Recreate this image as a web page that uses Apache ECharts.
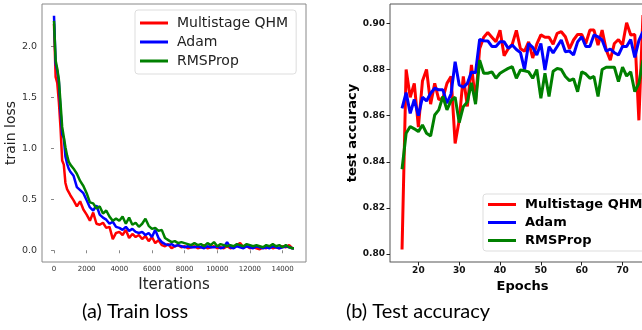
<!DOCTYPE html>
<html>
<head>
<meta charset="utf-8">
<style>
  html, body { margin: 0; padding: 0; background: #fff; overflow: hidden; }
  #chart { width: 670px; height: 330px; }
</style>
<script src="https://cdn.jsdelivr.net/npm/echarts@6/dist/echarts.min.js"></script>
</head>
<body>
<div id="chart"></div>
<script>
// legend names
const seriesNames = ['Multistage QHM', 'Adam', 'RMSProp']
const seriesColors = ['#ff0000', '#0000ff', '#008000']

// (a) train loss, sampled iterations
const iterations = [
  0, 100, 200, 300, 400, 500, 600, 700, 800, 900, 1000,
  1200, 1400, 1600, 1800, 2000, 2200, 2400, 2600, 2800, 3000,
  3200, 3400, 3600, 3800, 4000, 4200, 4400, 4600, 4800, 5000,
  5200, 5400, 5600, 5800, 6000, 6200, 6400, 6600, 6800, 7000,
  7200, 7400, 7600, 7800, 8000, 8200, 8400, 8600, 8800, 9000,
  9200, 9400, 9600, 9800, 10000, 10200, 10400, 10600, 10800, 11000,
  11200, 11400, 11600, 11800, 12000, 12200, 12400, 12600, 12800, 13000,
  13200, 13400, 13600, 13800, 14000, 14200, 14400, 14600, 14700
]
const lossQHM = [
  2.22, 1.70, 1.64, 1.45, 1.20, 0.88, 0.84, 0.66, 0.60, 0.57, 0.54,
  0.49, 0.43, 0.48, 0.40, 0.35, 0.29, 0.37, 0.26, 0.25, 0.27,
  0.22, 0.23, 0.11, 0.17, 0.18, 0.15, 0.20, 0.12, 0.16, 0.13,
  0.15, 0.11, 0.14, 0.09, 0.13, 0.07, 0.10, 0.05, 0.04, 0.06,
  0.02, 0.04, 0.05, 0.03, 0.04, 0.02, 0.03, 0.04, 0.02, 0.03,
  0.05, 0.02, 0.03, 0.04, 0.02, 0.03, 0.02, 0.04, 0.02, 0.03,
  0.05, 0.07, 0.03, 0.04, 0.02, 0.03, 0.02, 0.01, 0.03, 0.02,
  0.04, 0.02, 0.03, 0.02, 0.04, 0.03, 0.05, 0.02, 0.02
]
const lossAdam = [
  2.30, 1.83, 1.76, 1.65, 1.37, 1.14, 1.10, 0.92, 0.85, 0.80, 0.77,
  0.73, 0.62, 0.59, 0.56, 0.49, 0.42, 0.39, 0.44, 0.35, 0.32,
  0.30, 0.26, 0.28, 0.23, 0.22, 0.20, 0.23, 0.19, 0.21, 0.18,
  0.17, 0.18, 0.15, 0.17, 0.13, 0.20, 0.12, 0.08, 0.06, 0.05,
  0.06, 0.04, 0.05, 0.04, 0.03, 0.04, 0.03, 0.03, 0.04, 0.03,
  0.02, 0.04, 0.03, 0.03, 0.04, 0.02, 0.03, 0.08, 0.03, 0.02,
  0.04, 0.03, 0.02, 0.04, 0.03, 0.02, 0.04, 0.03, 0.02, 0.03,
  0.02, 0.04, 0.03, 0.02, 0.03, 0.04, 0.03, 0.02, 0.02
]
const lossRMS = [
  2.25, 1.86, 1.78, 1.67, 1.44, 1.21, 1.20, 1.01, 0.93, 0.87, 0.84,
  0.80, 0.75, 0.68, 0.63, 0.56, 0.47, 0.46, 0.41, 0.43, 0.36,
  0.39, 0.33, 0.29, 0.31, 0.29, 0.33, 0.26, 0.32, 0.25, 0.27,
  0.23, 0.26, 0.31, 0.24, 0.21, 0.22, 0.19, 0.20, 0.12, 0.10,
  0.08, 0.09, 0.07, 0.08, 0.07, 0.06, 0.05, 0.07, 0.05, 0.06,
  0.04, 0.07, 0.05, 0.08, 0.04, 0.06, 0.05, 0.04, 0.05, 0.04,
  0.06, 0.05, 0.04, 0.06, 0.05, 0.04, 0.05, 0.04, 0.03, 0.05,
  0.04, 0.06, 0.04, 0.05, 0.03, 0.05, 0.03, 0.02, 0.02
]

// (b) test accuracy per epoch
const epochs = [
  16, 17, 18, 19, 20, 21, 22, 23, 24, 25, 26, 27, 28, 29, 30,
  31, 32, 33, 34, 35, 36, 37, 38, 39, 40, 41, 42, 43, 44, 45,
  46, 47, 48, 49, 50, 51, 52, 53, 54, 55, 56, 57, 58, 59, 60,
  61, 62, 63, 64, 65, 66, 67, 68, 69, 70, 71, 72, 73, 74, 75
]
const accQHM = [
  0.802, 0.880, 0.868, 0.874, 0.855, 0.875, 0.880, 0.865, 0.874, 0.867, 0.8675, 0.874, 0.877, 0.848, 0.858,
  0.877, 0.864, 0.882, 0.866, 0.889, 0.894, 0.896, 0.894, 0.892, 0.897, 0.886, 0.889, 0.891, 0.897, 0.889,
  0.888, 0.892, 0.885, 0.891, 0.895, 0.894, 0.894, 0.891, 0.8957, 0.8964, 0.8942, 0.889, 0.8928, 0.8952, 0.8952,
  0.8913, 0.8971, 0.8971, 0.8906, 0.8971, 0.8885, 0.8841, 0.8913, 0.893, 0.8906, 0.9003, 0.895, 0.8952, 0.858, 0.9036
]
const accAdam = [
  0.8632, 0.870, 0.861, 0.867, 0.860, 0.868, 0.8664, 0.8697, 0.8719, 0.8712, 0.8712, 0.8654, 0.8694, 0.8834, 0.8733,
  0.8723, 0.8740, 0.879, 0.8786, 0.893, 0.8925, 0.8924, 0.890, 0.890, 0.892, 0.892, 0.8892, 0.8906, 0.8887, 0.8873,
  0.880, 0.8913, 0.8896, 0.8863, 0.8913, 0.8798, 0.8899, 0.8872, 0.890, 0.8928, 0.8877, 0.888, 0.8863, 0.892, 0.8942,
  0.890, 0.890, 0.895, 0.8942, 0.8928, 0.888, 0.8889, 0.8873, 0.8863, 0.890, 0.890, 0.893, 0.8853, 0.8925, 0.8964
]
const accRMS = [
  0.8368, 0.8524, 0.8553, 0.8543, 0.8531, 0.856, 0.8524, 0.8512, 0.8603, 0.8625, 0.8683, 0.8625, 0.8665, 0.868, 0.857,
  0.8639, 0.866, 0.8743, 0.865, 0.8841, 0.8784, 0.8784, 0.879, 0.8762, 0.8784, 0.8795, 0.8805, 0.8812, 0.8762, 0.8798,
  0.8795, 0.879, 0.8762, 0.880, 0.8675, 0.8784, 0.8683, 0.8793, 0.8805, 0.880, 0.877, 0.8752, 0.876, 0.8704, 0.879,
  0.8781, 0.8762, 0.877, 0.8683, 0.880, 0.881, 0.881, 0.881, 0.8748, 0.881, 0.8772, 0.879, 0.8704, 0.874, 0.8841
]

// tick labels
const lossXTicks = [0, 2000, 4000, 6000, 8000, 10000, 12000, 14000]
const lossYTicks = [0, 0.5, 1.0, 1.5, 2.0]
const accXTicks = [20, 30, 40, 50, 60, 70]
const accYTicks = [0.80, 0.82, 0.84, 0.86, 0.88, 0.90]

const zip = (xs, ys) => xs.map((x, i) => [x, ys[i]])

const chart = echarts.init(document.getElementById('chart'))

const leftFont = 'DejaVu Sans'
const rightFont = 'DejaVu Sans'

const lossSets = [lossQHM, lossAdam, lossRMS]
const accSets = [accQHM, accAdam, accRMS]

const series = []
lossSets.forEach((d, i) => {
  series.push({
    name: seriesNames[i],
    type: 'line',
    xAxisIndex: 0,
    yAxisIndex: 0,
    data: zip(iterations, d),
    showSymbol: false,
    lineStyle: { color: seriesColors[i], width: 2.5 },
    itemStyle: { color: seriesColors[i] }
  })
})
accSets.forEach((d, i) => {
  series.push({
    name: seriesNames[i],
    type: 'line',
    xAxisIndex: 1,
    yAxisIndex: 1,
    data: zip(epochs, d),
    showSymbol: false,
    lineStyle: { color: seriesColors[i], width: 3 },
    itemStyle: { color: seriesColors[i] }
  })
})

chart.setOption({
  animation: false,
  grid: [
    { left: 42, top: 4, width: 264, height: 258, show: true, borderColor: '#888', borderWidth: 1 },
    { left: 390, top: 4, width: 265, height: 258, show: true, borderColor: '#555', borderWidth: 1 }
  ],
  legend: [
    {
      data: seriesNames,
      orient: 'vertical',
      left: 135,
      top: 10,
      padding: [6, 8, 6, 5],
      itemGap: 5,
      itemWidth: 28,
      itemHeight: 3,
      icon: 'rect',
      backgroundColor: '#fff',
      borderColor: '#ddd',
      borderWidth: 1,
      borderRadius: 3,
      textStyle: { fontFamily: leftFont, fontSize: 14, color: '#222', padding: [0, 0, 0, 4] }
    },
    {
      data: seriesNames,
      orient: 'vertical',
      left: 483,
      top: 194,
      padding: [4, 8, 4, 5],
      itemGap: 5,
      itemWidth: 28,
      itemHeight: 3,
      icon: 'rect',
      backgroundColor: '#fff',
      borderColor: '#ddd',
      borderWidth: 1,
      borderRadius: 3,
      textStyle: { fontFamily: rightFont, fontSize: 13, fontWeight: 'bold', color: '#000', padding: [0, 0, 0, 4] }
    }
  ],
  xAxis: [
    {
      type: 'value',
      gridIndex: 0,
      min: -735,
      max: 15435,
      name: 'Iterations',
      nameLocation: 'middle',
      nameGap: 6,
      nameTextStyle: { fontFamily: leftFont, fontSize: 15, color: '#222', verticalAlign: 'top' },
      axisLine: { show: false },
      axisTick: { show: true, length: 3, lineStyle: { color: '#888' }, customValues: lossXTicks },
      axisLabel: {
        fontFamily: leftFont, fontSize: 7, color: '#333', margin: 4,
        customValues: lossXTicks,
        formatter: v => String(v)
      },
      splitLine: { show: false }
    },
    {
      type: 'value',
      gridIndex: 1,
      min: 13.05,
      max: 77.95,
      name: 'Epochs',
      nameLocation: 'middle',
      nameGap: 13,
      nameTextStyle: { fontFamily: rightFont, fontSize: 13, fontWeight: 'bold', color: '#000', verticalAlign: 'top' },
      axisLine: { show: true, lineStyle: { color: '#aaa', width: 1 } },
      axisTick: { show: true, length: 3.5, lineStyle: { color: '#222' }, customValues: accXTicks },
      axisLabel: { fontFamily: rightFont, fontSize: 9, fontWeight: 'bold', color: '#111', margin: 4, customValues: accXTicks },
      splitLine: { show: false }
    }
  ],
  yAxis: [
    {
      type: 'value',
      gridIndex: 0,
      min: -0.115,
      max: 2.415,
      name: 'train loss',
      nameLocation: 'middle',
      nameRotate: 90,
      nameGap: 23,
      nameTextStyle: { fontFamily: leftFont, fontSize: 14, color: '#222' },
      axisLine: { show: false },
      axisTick: { show: true, length: 3, lineStyle: { color: '#888' }, customValues: lossYTicks },
      axisLabel: {
        fontFamily: leftFont, fontSize: 9.5, color: '#333', margin: 5,
        customValues: lossYTicks,
        formatter: v => v.toFixed(1)
      },
      splitLine: { show: false }
    },
    {
      type: 'value',
      gridIndex: 1,
      min: 0.7966,
      max: 0.9084,
      name: 'test accuracy',
      nameLocation: 'middle',
      nameRotate: 90,
      nameGap: 30,
      nameTextStyle: { fontFamily: rightFont, fontSize: 13, fontWeight: 'bold', color: '#000' },
      axisLine: { show: false },
      axisTick: { show: true, length: 3.5, lineStyle: { color: '#222' }, customValues: accYTicks },
      axisLabel: {
        fontFamily: rightFont, fontSize: 9, fontWeight: 'bold', color: '#111', margin: 5,
        customValues: accYTicks,
        formatter: v => v.toFixed(2)
      },
      splitLine: { show: false }
    }
  ],
  graphic: [
    {
      type: 'text', x: 135, y: 312,
      style: { text: '(a) Train loss', fontFamily: 'Lato', fontSize: 20, fill: '#000', textAlign: 'center', textVerticalAlign: 'middle' }
    },
    {
      type: 'text', x: 418, y: 312,
      style: { text: '(b) Test accuracy', fontFamily: 'Lato', fontSize: 20, fill: '#000', textAlign: 'center', textVerticalAlign: 'middle' }
    }
  ],
  series: series
})
</script>
</body>
</html>
